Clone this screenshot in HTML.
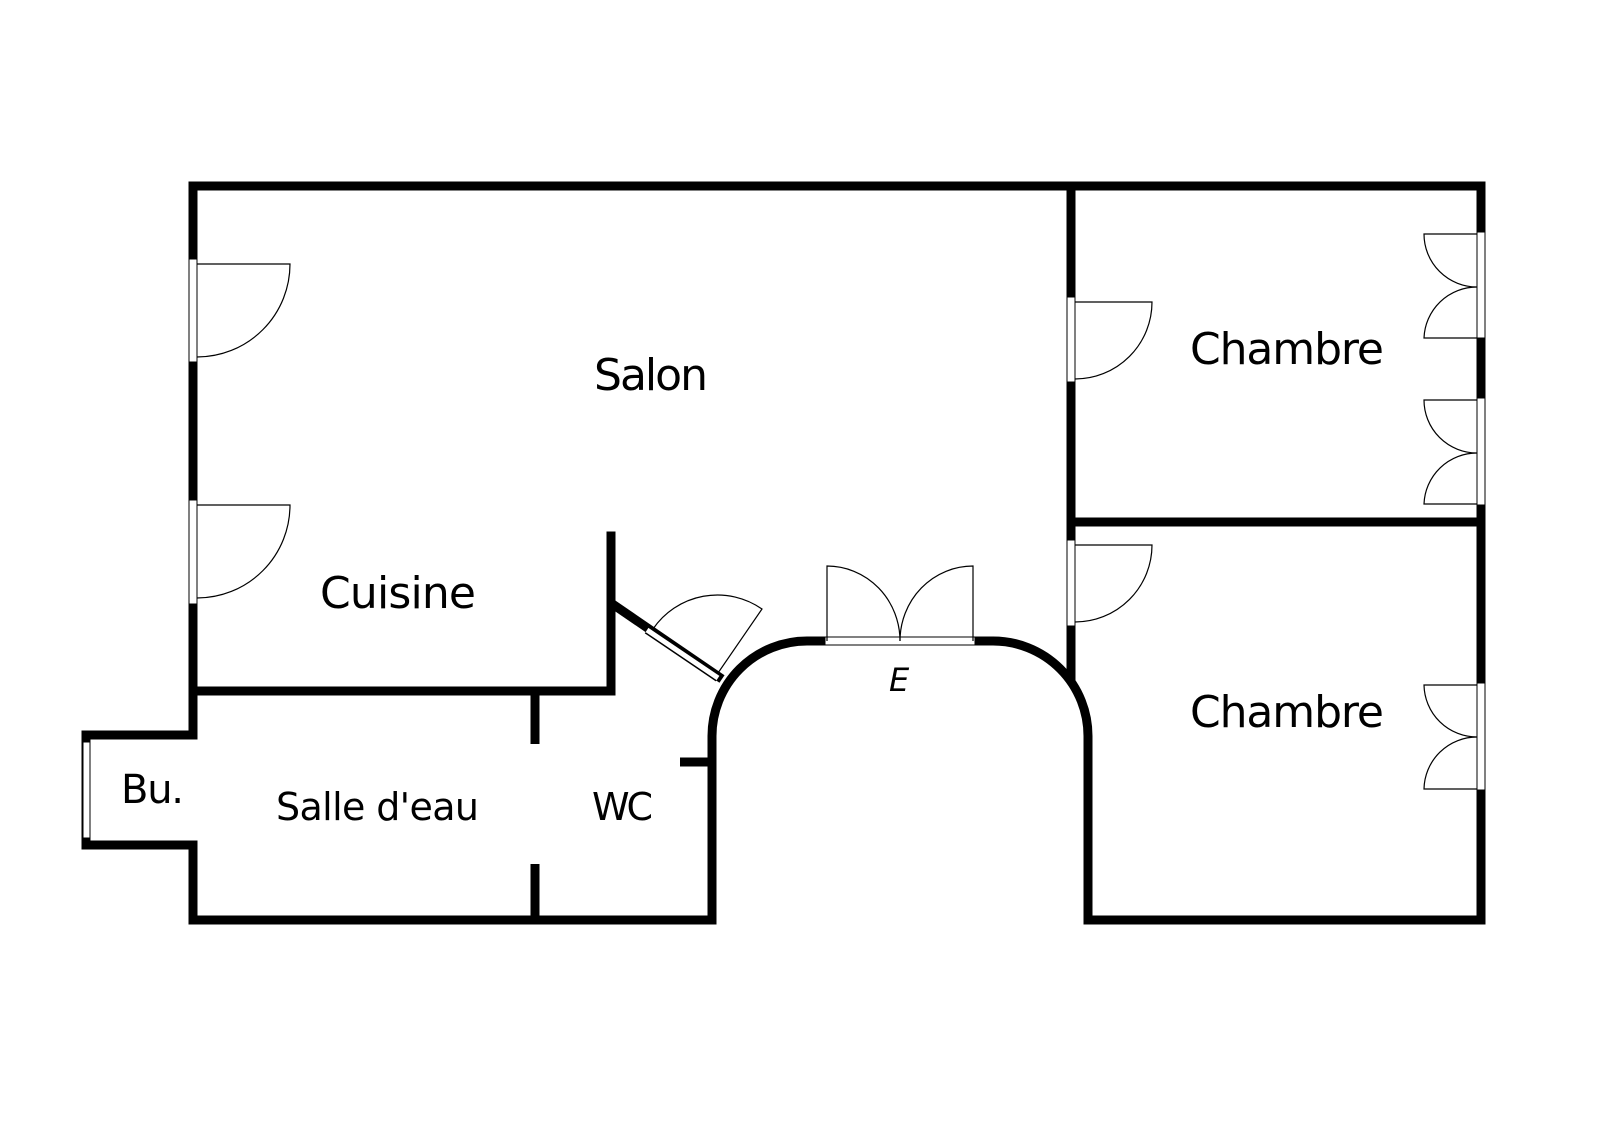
<!DOCTYPE html>
<html><head><meta charset="utf-8"><style>html,body{margin:0;padding:0;background:#fff}svg{display:block}</style></head>
<body>
<svg width="1600" height="1130" viewBox="0 0 1600 1130" xmlns="http://www.w3.org/2000/svg">
<g stroke="#000" stroke-width="9" fill="none" stroke-linecap="square">
<polyline points="193,735 193,186 1481,186 1481,920 1088,920"/>
<path d="M1088,920 V736 A95,95 0 0 0 993,641 H807 A95,95 0 0 0 712,736 V920 H193 V845 H86 V735 H193"/>
<line x1="1071" y1="186" x2="1071" y2="678"/>
<line x1="1071" y1="522" x2="1481" y2="522"/>
<polyline points="193,691 611,691 611,536"/>
<line x1="611" y1="603" x2="722" y2="679" stroke-linecap="butt"/>
<line x1="535" y1="691" x2="535" y2="744" stroke-linecap="butt"/>
<line x1="535" y1="864" x2="535" y2="920" stroke-linecap="butt"/>
<line x1="680" y1="762" x2="712" y2="762" stroke-linecap="butt"/>
</g>
<g fill="#fff" stroke="#000" stroke-width="1">
<rect x="189" y="259" width="8" height="103"/>
<rect x="189" y="500" width="8" height="104"/>
<rect x="83" y="742" width="7" height="96"/>
<rect x="1067" y="297" width="8" height="85"/>
<rect x="1067" y="540" width="8" height="86"/>
<rect x="1477" y="232" width="8" height="106"/>
<rect x="1477" y="398" width="8" height="107"/>
<rect x="1477" y="683" width="8" height="107"/>
<rect x="825" y="637" width="150" height="8"/>
</g>
<line x1="647" y1="630" x2="718" y2="678" stroke="#000" stroke-width="8"/>
<line x1="647" y1="630" x2="718" y2="678" stroke="#fff" stroke-width="5"/>
<g stroke="#000" stroke-width="1.2" fill="none">
<path d="M197,264 H290 A93,93 0 0 1 197,357"/>
<path d="M197,505 H290 A93,93 0 0 1 197,598"/>
<path d="M1075,302 H1152 A77,77 0 0 1 1075,379"/>
<path d="M1075,545 H1152 A77,77 0 0 1 1075,622"/>
<path d="M1477,234 H1424 A53,53 0 0 0 1477,287 A53,53 0 0 0 1424,338 H1477"/>
<path d="M1477,400 H1424 A53,53 0 0 0 1477,453 A53,53 0 0 0 1424,504 H1477"/>
<path d="M1477,685 H1424 A53,53 0 0 0 1477,737 A53,53 0 0 0 1424,789 H1477"/>
<path d="M827,641 V566 A73,75 0 0 1 900,641"/>
<path d="M973,641 V566 A73,75 0 0 0 900,641"/>
<path d="M718,673 L762,609 A78,78 0 0 0 653,629"/>
</g>
<g font-family="DejaVu Sans, 'Liberation Sans', sans-serif" fill="#000">
<text x="594" y="390" font-size="44" textLength="114">Salon</text>
<text x="1190" y="364" font-size="44" textLength="194">Chambre</text>
<text x="1190" y="727" font-size="44" textLength="194">Chambre</text>
<text x="320" y="608" font-size="44" textLength="156">Cuisine</text>
<text x="276" y="820" font-size="38" textLength="203">Salle d'eau</text>
<text x="592" y="820" font-size="38" textLength="61">WC</text>
<text x="121" y="803" font-size="40" textLength="63">Bu.</text>
<text x="889" y="691" font-size="32" font-style="italic">E</text>
</g>
</svg>
</body></html>
